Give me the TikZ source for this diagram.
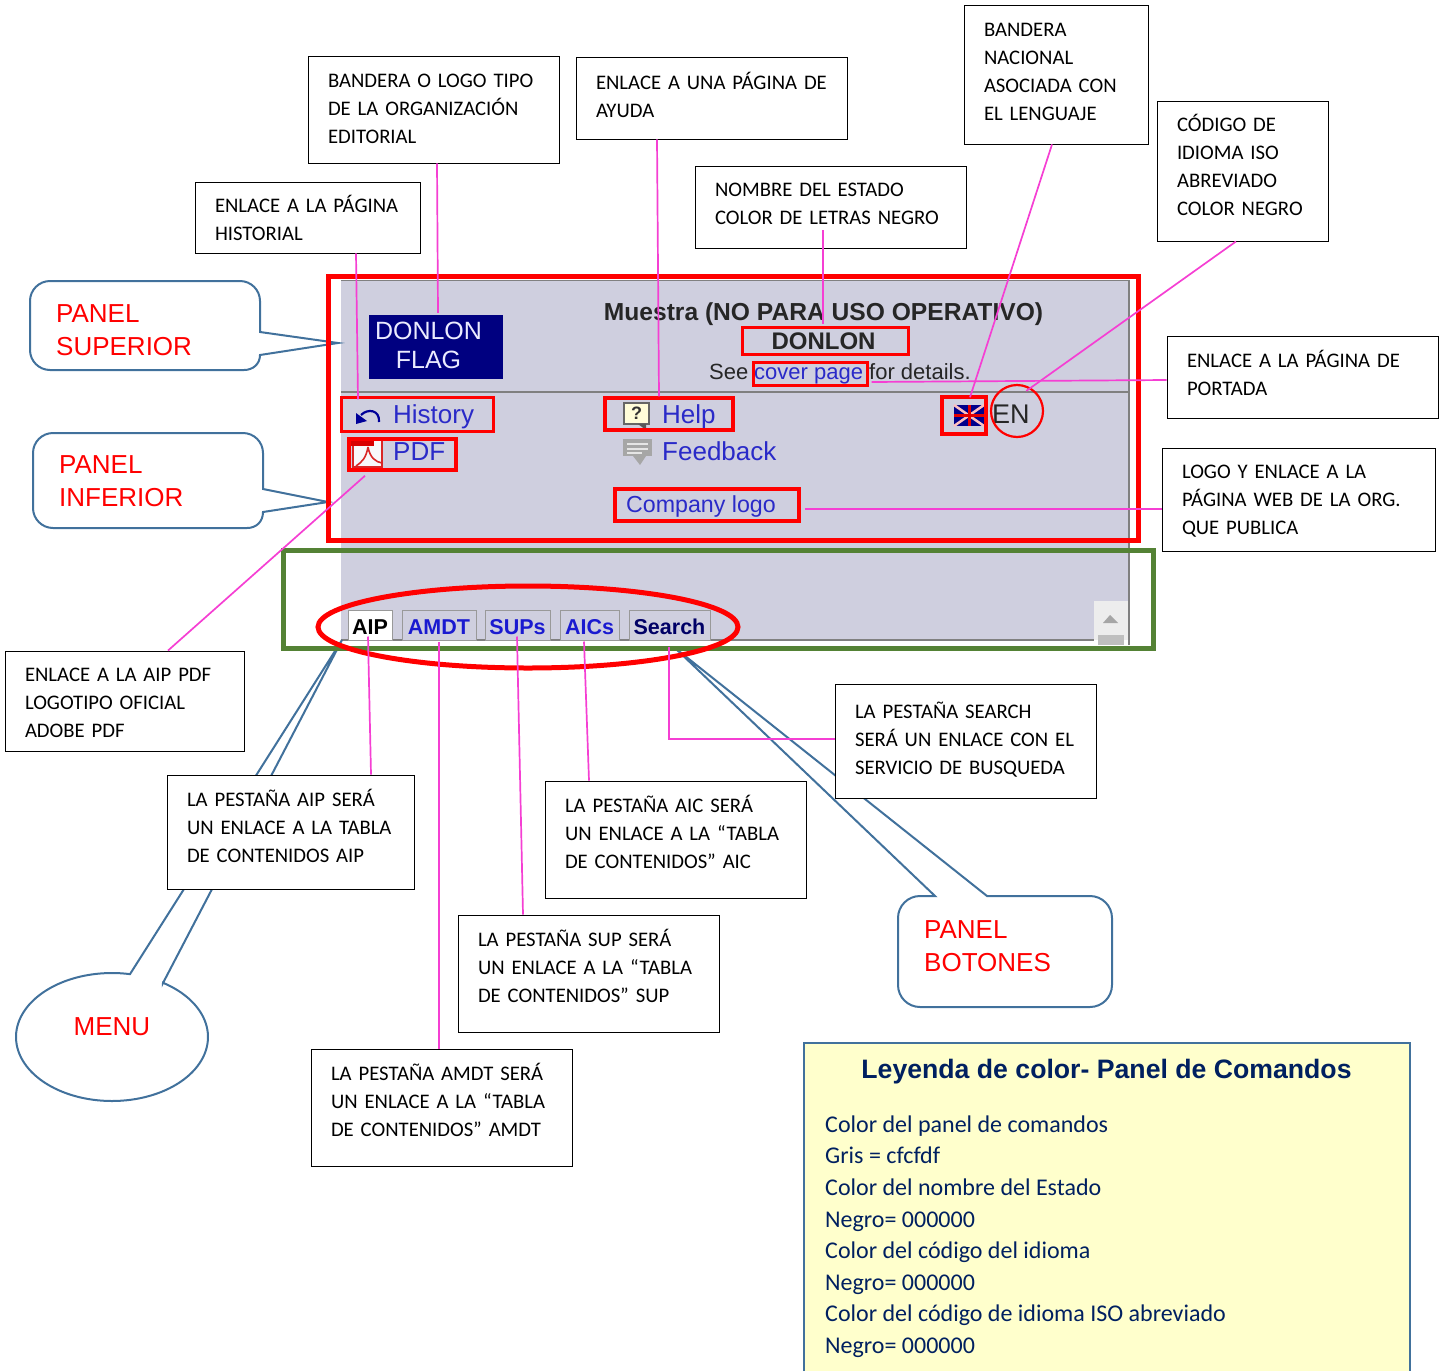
\documentclass[tikz,border=0pt]{standalone}
\usepackage{fontspec}
\setmainfont{Carlito}
\newfontfamily\arial{Liberation Sans}
\newfontfamily\boxfam[WordSpace=0.6]{Carlito}
\usetikzlibrary{calc,shapes.geometric}
\definecolor{panelgray}{HTML}{CFCFDF}
\definecolor{pinkline}{HTML}{F53FD3}
\definecolor{callblue}{HTML}{41719C}
\definecolor{greenframe}{HTML}{548235}
\definecolor{linkblue}{HTML}{2A2AC8}
\definecolor{tabblue}{HTML}{1A1AD0}
\definecolor{legendfill}{HTML}{FFFFCC}
\definecolor{legendtext}{HTML}{002060}
\newcommand\txup[1]{\leavevmode\vrule width 0pt height 0pt depth #1pt\relax}
\newcommand\txdown[1]{\leavevmode\vrule width 0pt height #1pt depth 0pt\relax}
\newcommand\tabtx[1]{\raisebox{0pt}[18.5pt][0pt]{#1}}
\tikzset{
  x=1pt,y=-1pt,
  box/.style={draw=black,line width=0.9pt,fill=white,inner xsep=20pt,inner ysep=0pt,align=left,anchor=center,font=\boxfam\fontsize{20.7}{28}\selectfont},
  redbox/.style={draw=red,line width=3.5pt,inner sep=0pt},
  pinkl/.style={draw=pinkline,line width=1.7pt},
  call/.style={draw=callblue,line width=2pt,fill=white,line join=miter},
  calltext/.style={text=red,align=left,inner sep=0pt,anchor=north west,font=\arial\fontsize{26}{33}\selectfont},
  tabn/.style={draw=gray!80,line width=1pt,inner sep=0pt,fill=panelgray,font=\arial\bfseries\fontsize{21.5}{21.5}\selectfont,text=tabblue,minimum height=30pt},
  lnk/.style={text=linkblue,inner sep=0pt,font=\arial\fontsize{26}{26}\selectfont,anchor=base west},
  blk/.style={text=black!85,inner sep=0pt,font=\arial\fontsize{22}{22}\selectfont,anchor=base west},
}
\begin{document}
\begin{tikzpicture}
\useasboundingbox (0,0) rectangle (1448,1371);
% application panel
\fill[panelgray] (341,280) rectangle (1129,640);
\draw[gray,line width=1pt] (341,280) -- (1129,280);
\draw[gray,line width=1.2pt] (1129,280) -- (1129,645);
\draw[gray,line width=1.2pt] (341,392) -- (1129,392);
\draw[gray,line width=1.2pt] (341,640) -- (1094,640);
\fill[white!93!black] (1094,601) rectangle (1128,640);
\fill[gray!70] (1103,623) -- (1110,615) -- (1118,623) -- cycle;
\fill[gray!50] (1098,635) rectangle (1124,645);
% callouts
\draw[call] (260,332) -- (260,301) .. controls (260,290) and (251,281) .. (240,281) -- (50,281) .. controls (39,281) and (30,290) .. (30,301) -- (30,350) .. controls (30,361) and (39,370) .. (50,370) -- (244,370) .. controls (253,370) and (260,364) .. (260,355) -- (338,343) -- cycle;
\draw[call] (263,489) -- (263,453) .. controls (263,442) and (254,433) .. (243,433) -- (53,433) .. controls (42,433) and (33,442) .. (33,453) -- (33,508) .. controls (33,519) and (42,528) .. (53,528) -- (247,528) .. controls (256,528) and (263,522) .. (263,512) -- (328,502) -- cycle;
\draw[call] (935,896) [rounded corners=22pt] -- (898,896) -- (898,1007) -- (1112,1007) -- (1112,896) [sharp corners] -- (987,896) -- (675,648) -- cycle;
\draw[call] (342,640) -- (163,983) -- plot[domain=-57.9:280.8,samples=120] ({112+96*cos(\x)},{1037+64*sin(\x)}) -- cycle;
\node[calltext] (cSup) at (56,304) {PANEL\\SUPERIOR};
\node[calltext] (cInf) at (59,455) {PANEL\\INFERIOR};
\node[calltext] (cBot) at (924,920) {PANEL\\BOTONES};
\node[calltext,anchor=center] (cMenu) at (112,1027) {MENU};
% logo and texts of the panel
\node[fill=blue!50!black,minimum width=134pt,minimum height=64pt,inner sep=0pt] (flagLogo) at (436,347) {};
\node[text=white!92!blue,inner sep=0pt,align=center,font=\arial\fontsize{25}{29}\selectfont] (tFlag) at (428.5,345) {DONLON\\FLAG};
\node[blk,font=\arial\bfseries\fontsize{24.6}{24.6}\selectfont,anchor=base] (tMuestra) at (823.5,320) {Muestra (NO PARA USO OPERATIVO)};
\node[blk,font=\arial\bfseries\fontsize{24}{24}\selectfont,anchor=base] (tDon) at (823.5,349) {DONLON};
\node[blk] (tSee) at (709,379) {See};
\node[lnk,font=\arial\fontsize{22}{22}\selectfont] (tCover) at (754,379) {cover page};
\node[blk] (tFor) at (869,379) {for details.};
\node[lnk] (tHist) at (393,423) {History};
\node[lnk] (tPDF) at (393,460) {PDF};
\node[lnk] (tHelp) at (662,423) {Help};
\node[lnk] (tFeed) at (662,460) {Feedback};
\node[lnk,font=\arial\fontsize{23.2}{23.2}\selectfont] (tComp) at (626,512) {Company logo};
\node[blk,font=\arial\fontsize{27}{27}\selectfont] (tEN) at (992,423) {EN};
% icons
\draw[blue!60!black,line width=2.2pt] (361,415) .. controls (368,408) and (380,410) .. (379,422);
\fill[blue!60!black] (356,413) -- (367,421) -- (356,424) -- cycle;
\fill[white!85!panelgray] (353,440) rectangle (382,467);
\draw[red!70!gray,line width=1.5pt] (353,440) rectangle (382,467);
\fill[red!85!black] (351,441) rectangle (374,446);
\draw[red!70!gray,line width=1.6pt] (368,447) .. controls (366,458) and (362,462) .. (356,466) (368,447) .. controls (370,458) and (376,462) .. (382,463);
\fill[white!85!yellow] (624,403) rectangle (649,424);
\draw[gray!80!black,line width=1.4pt] (624,403) rectangle (649,424);
\fill[gray!70!black] (638,424) -- (646,424) -- (646,430) -- cycle;
\node[inner sep=0pt,font=\arial\bfseries\fontsize{18}{18}\selectfont,text=black!80] (qMark) at (636.5,413.5) {?};
\fill[gray!70] (623,439) rectangle (652,456);
\fill[gray!70] (633,456) -- (646,456) -- (640,465) -- cycle;
\draw[white!80!gray,line width=1.2pt] (627,444) -- (648,444) (627,449) -- (648,449) (627,453) -- (642,453);
\fill[blue!55!black] (954,405) rectangle (984,426);
\draw[white!75!red,line width=2.5pt] (954,405) -- (984,426) (984,405) -- (954,426);
\draw[red!90!black,line width=3pt] (969,405) -- (969,426) (954,415.5) -- (984,415.5);
% tabs
\node[tabn,fill=white,text=black,minimum width=44pt] (tAIP) at (370,625) {\tabtx{AIP}};
\node[tabn,minimum width=74pt] (tAMDT) at (439,625) {\tabtx{AMDT}};
\node[tabn,minimum width=65pt] (tSUP) at (517.5,625) {\tabtx{SUPs}};
\node[tabn,minimum width=59pt] (tAIC) at (589.5,625) {\tabtx{AICs}};
\node[tabn,text=blue!40!black,minimum width=81pt] (tSearch) at (669.5,625) {\tabtx{Search}};
% frames
\draw[red,line width=5pt] (328,276) rectangle (1138.5,540.5);
\draw[greenframe,line width=5pt] (283.5,550.5) rectangle (1153.5,648.5);
\node[draw=red,line width=5pt,ellipse,minimum width=420pt,minimum height=82pt,inner sep=0pt] (eTabs) at (528,627) {};
\node[redbox,minimum width=152pt,minimum height=34pt] (rHist) at (417.5,414.5) {};
\node[redbox,minimum width=107pt,minimum height=31pt] (rPDF) at (402.5,454.5) {};
\node[redbox,minimum width=128pt,minimum height=32pt] (rHelp) at (669,414) {};
\node[redbox,minimum width=184pt,minimum height=32pt] (rLogo) at (707,505) {};
\node[redbox,minimum width=166pt,minimum height=27pt,line width=3pt] (rDon) at (825,340.5) {};
\node[redbox,minimum width=114pt,minimum height=23pt,line width=3pt] (rCover) at (810,373.5) {};
\node[redbox,minimum width=44pt,minimum height=37pt] (rFlag) at (964,415.5) {};
\node[draw=red,line width=2.2pt,circle,minimum size=52pt,inner sep=0pt] (cEN) at (1017,411) {};
% text boxes
\node[box,text width=185pt,minimum height=71pt] (bHist) at (307.5,217.5) {\mbox{\txdown{16}ENLACE A LA PÁGINA}\\HISTORIAL};
\node[box,text width=211pt,minimum height=107pt] (bBand) at (433.5,109.5) {\mbox{BANDERA O LOGO TIPO}\\\mbox{DE LA ORGANIZACIÓN}\\EDITORIAL\txup{2}};
\node[box,text width=231pt,minimum height=82pt] (bHelp) at (711.5,98) {\mbox{ENLACE A UNA PÁGINA DE}\\AYUDA\txup{6}};
\node[box,text width=231pt,minimum height=82pt] (bNom) at (830.5,207) {NOMBRE DEL ESTADO\\\mbox{COLOR DE LETRAS NEGRO}\txup{6}};
\node[box,text width=144pt,minimum height=139pt] (bBan) at (1056,74.5) {BANDERA\\NACIONAL\\\mbox{ASOCIADA CON}\\\mbox{EL LENGUAJE}\txup{6}};
\node[box,text width=131pt,minimum height=140pt] (bCod) at (1242.5,171) {CÓDIGO DE\\IDIOMA ISO\\ABREVIADO\\\mbox{COLOR NEGRO}\txup{12}};
\node[box,text width=231pt,minimum height=82pt] (bPort) at (1302.5,377) {\mbox{ENLACE A LA PÁGINA DE}\\PORTADA\txup{8}};
\node[box,text width=233pt,minimum height=103pt] (bLogo) at (1298.5,499.5) {\mbox{\txdown{17}LOGO Y ENLACE A LA}\\\mbox{PÁGINA WEB DE LA ORG.}\\QUE PUBLICA};
\node[box,text width=199pt,minimum height=100pt] (bPdf) at (124.5,701) {\mbox{\txdown{17}ENLACE A LA AIP PDF}\\\mbox{LOGOTIPO OFICIAL}\\ADOBE PDF};
\node[box,text width=207pt,minimum height=114pt] (bAip) at (290.5,832) {\mbox{LA PESTAÑA AIP SERÁ}\\\mbox{UN ENLACE A LA TABLA}\\\mbox{DE CONTENIDOS AIP}\txup{12}};
\node[box,text width=221pt,minimum height=117pt] (bAmdt) at (441.5,1107.5) {\mbox{LA PESTAÑA AMDT SERÁ}\\\mbox{UN ENLACE A LA “TABLA}\\\mbox{DE CONTENIDOS” AMDT}\txup{16}};
\node[box,text width=221pt,minimum height=117pt] (bSup) at (588.5,973.5) {\mbox{LA PESTAÑA SUP SERÁ}\\\mbox{UN ENLACE A LA “TABLA}\\\mbox{DE CONTENIDOS” SUP}\txup{16}};
\node[box,text width=221pt,minimum height=117pt] (bAic) at (675.5,839.5) {\mbox{LA PESTAÑA AIC SERÁ}\\\mbox{UN ENLACE A LA “TABLA}\\\mbox{DE CONTENIDOS” AIC}\txup{16}};
\node[box,text width=221pt,minimum height=114pt] (bSearch) at (965.5,741) {\mbox{LA PESTAÑA SEARCH}\\\mbox{SERÁ UN ENLACE CON EL}\\\mbox{SERVICIO DE BUSQUEDA}\txup{6}};
% pink connectors
\draw[pinkl] ([xshift=48.5pt]bHist.south) -- ([xshift=-59.5pt,yshift=-3.5pt]rHist.north);
\draw[pinkl] ([xshift=3.5pt]bBand.south) -- ([xshift=2pt,yshift=2pt]flagLogo.north);
\draw[pinkl] ([xshift=-54.5pt]bHelp.south) -- ([xshift=-10pt]rHelp.north);
\draw[pinkl] ([xshift=-7.5pt,yshift=18pt]bNom.south) -- ([xshift=-2pt,yshift=2pt]rDon.north);
\draw[pinkl] ([xshift=-4pt]bBan.south) -- ([xshift=6pt,yshift=-2pt]rFlag.north);
\draw[pinkl] ([xshift=-6.5pt]bCod.south) -- ([yshift=-5.4pt]cEN.70);
\draw[pinkl] ([xshift=3pt,yshift=-8.5pt]rCover.east) -- ([yshift=-3pt]bPort.west);
\draw[pinkl] ([xshift=4pt,yshift=-4pt]rLogo.east) -- ([yshift=-9.5pt]bLogo.west);
\draw[pinkl] ([xshift=-37.5pt,yshift=-4pt]rPDF.south) -- ([xshift=43.5pt]bPdf.north);
\draw[pinkl] ([xshift=-2pt,yshift=4pt]tAIP.south) -- ([xshift=80.5pt]bAip.north);
\draw[pinkl] ([yshift=-1pt]tAMDT.south) -- ([xshift=-2.5pt]bAmdt.north);
\draw[pinkl] ([xshift=-.5pt,yshift=4pt]tSUP.south) -- ([xshift=-65.5pt]bSup.north);
\draw[pinkl] ([xshift=-5.5pt,yshift=-1pt]tAIC.south) -- ([xshift=-86.5pt]bAic.north);
\draw[pinkl] ([xshift=-.5pt,yshift=-6pt]tSearch.south) |- ([yshift=2pt]bSearch.west);
% legend
\draw[draw=callblue,line width=2.5pt,fill=legendfill] (804,1371) -- (804,1043) -- (1410,1043) -- (1410,1371);
\node[inner sep=0pt,anchor=base,text=legendtext,font=\arial\bfseries\fontsize{26.65}{26.65}\selectfont] (lTitle) at (1106.5,1078) {Leyenda de color- Panel de Comandos};
\node[inner sep=0pt,anchor=north west,align=left,text=legendtext,font=\fontsize{24}{31.6}\selectfont] (lBody) at (825,1115.5) {Color del panel de comandos\\Gris = cfcfdf\\Color del nombre del Estado\\Negro= 000000\\Color del código del idioma\\Negro= 000000\\Color del código de idioma ISO abreviado\\Negro= 000000};
\end{tikzpicture}
\end{document}
